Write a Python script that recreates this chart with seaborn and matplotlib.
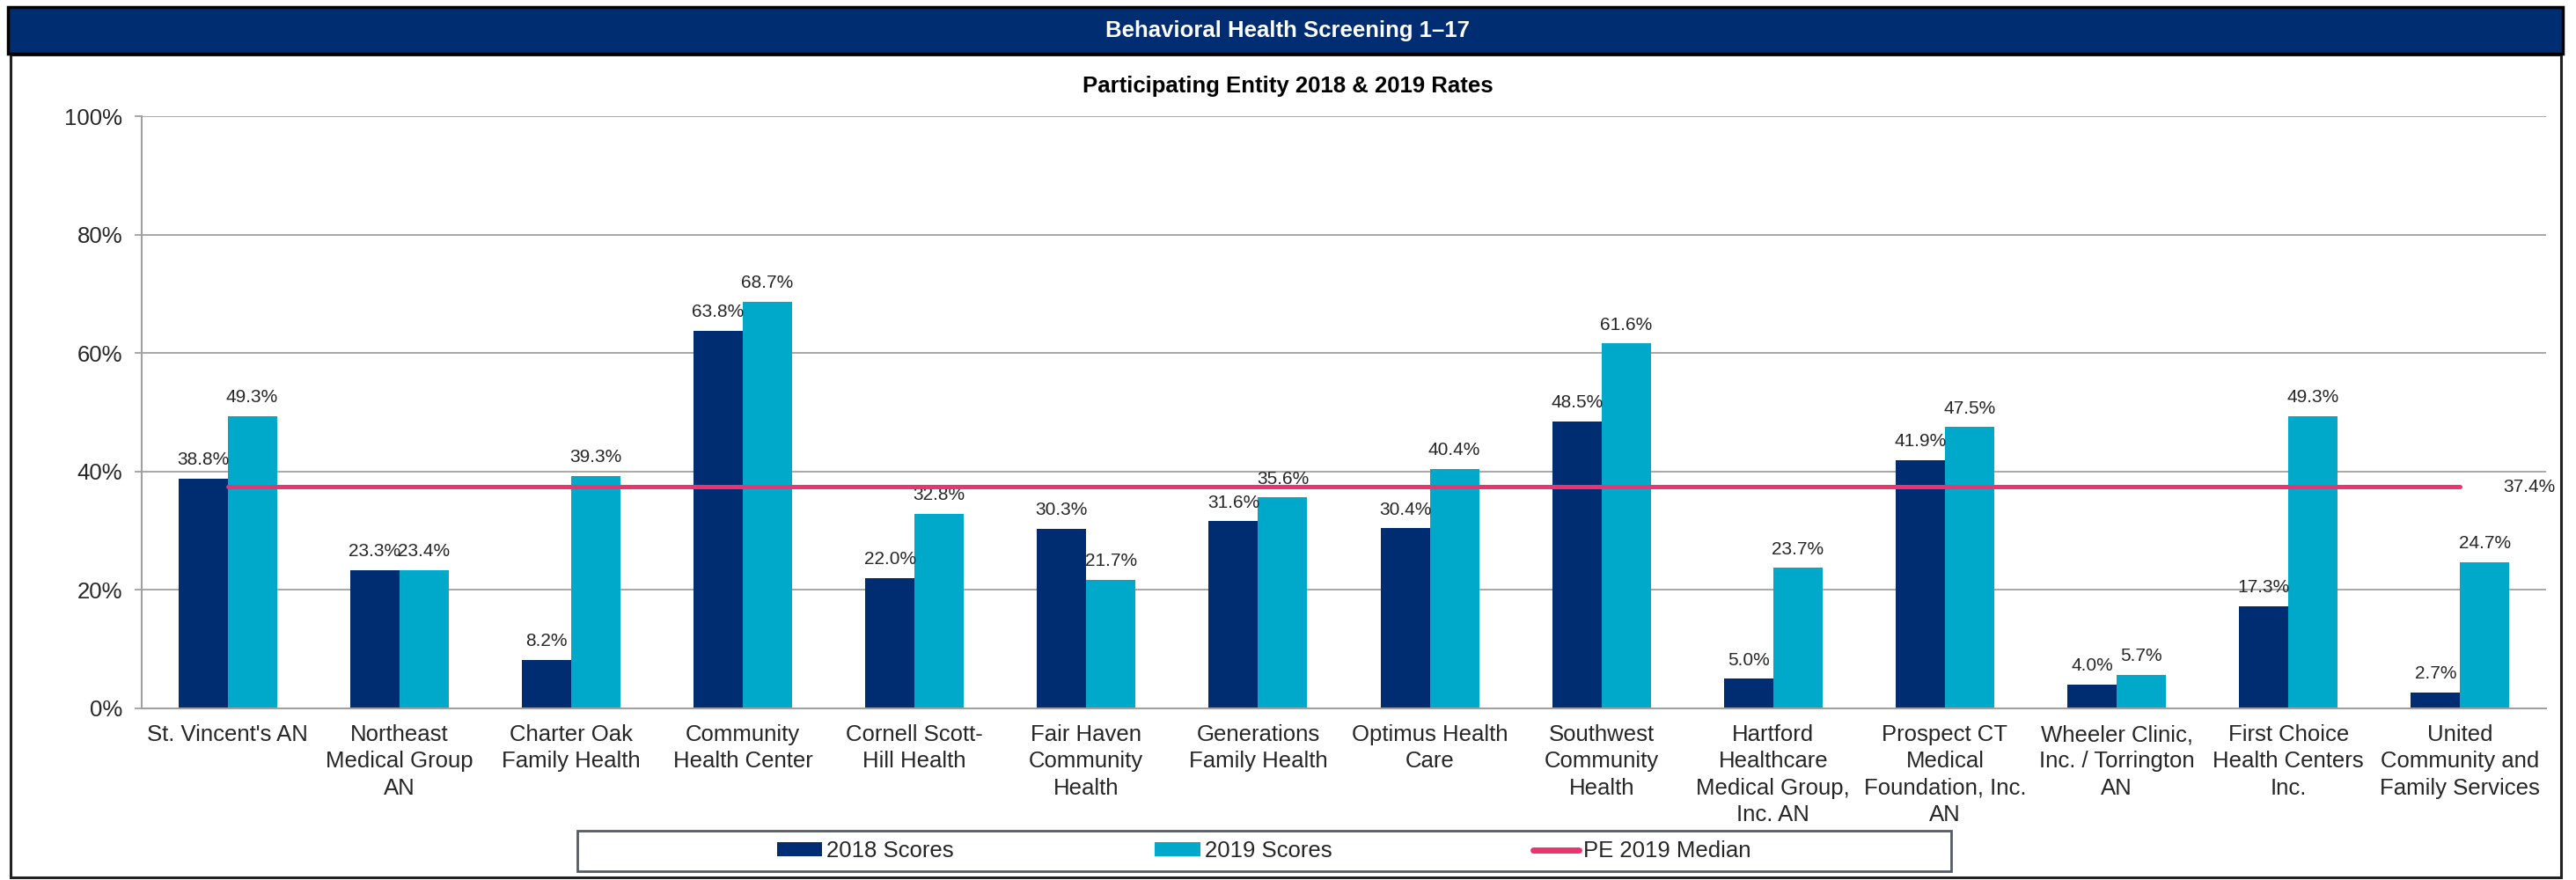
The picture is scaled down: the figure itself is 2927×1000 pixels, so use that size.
import numpy as np
import pandas as pd
import seaborn as sns
import matplotlib.pyplot as plt
from matplotlib.patches import Rectangle
from matplotlib.lines import Line2D

# chart values
entities = [
    "St. Vincent's AN",
    "Northeast\nMedical Group\nAN",
    "Charter Oak\nFamily Health",
    "Community\nHealth Center",
    "Cornell Scott-\nHill Health",
    "Fair Haven\nCommunity\nHealth",
    "Generations\nFamily Health",
    "Optimus Health\nCare",
    "Southwest\nCommunity\nHealth",
    "Hartford\nHealthcare\nMedical Group,\nInc. AN",
    "Prospect CT\nMedical\nFoundation, Inc.\nAN",
    "Wheeler Clinic,\nInc. / Torrington\nAN",
    "First Choice\nHealth Centers\nInc.",
    "United\nCommunity and\nFamily Services",
]
scores_2018 = [38.8, 23.3, 8.2, 63.8, 22.0, 30.3, 31.6, 30.4, 48.5, 5.0, 41.9, 4.0, 17.3, 2.7]
scores_2019 = [49.3, 23.4, 39.3, 68.7, 32.8, 21.7, 35.6, 40.4, 61.6, 23.7, 47.5, 5.7, 49.3, 24.7]
median_2019 = 37.4
series = ["2018 Scores", "2019 Scores"]
y_ticks = [0, 20, 40, 60, 80, 100]

NAVY = "#002D72"
TEAL = "#00A9C9"
PINK = "#EC3370"
GRID = "#A0A0A0"

df = pd.DataFrame({
    "entity": entities * 2,
    "series": [series[0]] * len(entities) + [series[1]] * len(entities),
    "rate": scores_2018 + scores_2019,
})

sns.set_theme(style="white")
plt.rcParams["font.family"] = ["Liberation Sans", "DejaVu Sans"]

fig = plt.figure(figsize=(29.27, 10), dpi=100)
W, H = 2927, 1000

def fx(px):
    return px / W

def fy(py):
    return 1 - py / H

# outer frame and header band
fig.patches.append(Rectangle((fx(12), fy(997)), fx(2910) - fx(12), fy(62) - fy(997),
                             transform=fig.transFigure, fill=False, edgecolor="#222222", lw=2.2))
fig.patches.append(Rectangle((fx(9), fy(61)), fx(2912) - fx(9), fy(8) - fy(61),
                             transform=fig.transFigure, facecolor=NAVY, edgecolor="black", lw=2.5))
fig.text(0.5, fy(35), "Behavioral Health Screening 1\u201317", color="white",
         fontsize=18.5, fontweight="bold", ha="center", va="center")
fig.text(0.5, fy(98), "Participating Entity 2018 & 2019 Rates", color="black",
         fontsize=18.5, fontweight="bold", ha="center", va="center")

ax = fig.add_axes([fx(161), fy(805), fx(2893) - fx(161), fy(132) - fy(805)])

sns.barplot(data=df, x="entity", y="rate", hue="series", order=entities,
            hue_order=series, palette=[NAVY, TEAL], saturation=1,
            width=0.574, errorbar=None, linewidth=0, ax=ax)

bar_handles = ax.get_legend().legend_handles
ax.get_legend().remove()

for cont in ax.containers:
    ax.bar_label(cont, fmt="%.1f%%", padding=8.5, fontsize=15)

pos = np.arange(len(entities))
med_line, = ax.plot(pos[[0, -1]], [median_2019, median_2019], color=PINK,
                    lw=3.6, solid_capstyle="round", zorder=5)
ax.text(pos[-1] + 0.4, median_2019, f"{median_2019:.1f}%", fontsize=15,
        ha="center", va="center", clip_on=False)

ax.set_ylim(0, 100)
ax.set_xlim(-0.5, len(entities) - 0.5)
ax.set_yticks(y_ticks)
ax.set_yticklabels([f"{t}%" for t in y_ticks])
ax.yaxis.grid(True, color=GRID, lw=1.3)
ax.set_axisbelow(True)
ax.set_xlabel("")
ax.set_ylabel("")

ax.set_xticks(pos)
ax.set_xticklabels(entities, fontsize=18.5, linespacing=1.33)
ax.set_xticks(np.arange(len(entities) + 1) - 0.5, minor=True)
ax.tick_params(axis="x", which="major", length=0, pad=13)
ax.tick_params(axis="x", which="minor", length=5.5, width=1.3, color=GRID, direction="out")
ax.tick_params(axis="y", which="major", length=5.8, width=1.3, color=GRID,
               direction="out", pad=10, labelsize=18.5)
ax.tick_params(left=True, bottom=True)

for side in ["top", "right"]:
    ax.spines[side].set_visible(False)
for side in ["left", "bottom"]:
    ax.spines[side].set_color(GRID)
    ax.spines[side].set_linewidth(1.5)

# legend box
fig.patches.append(Rectangle((fx(656), fy(990)), fx(2217) - fx(656), fy(944) - fy(990),
                             transform=fig.transFigure, fill=False, edgecolor="#555b63", lw=2))
med_handle = Line2D([0], [0], color=PINK, lw=5, solid_capstyle="round")
fig.legend(handles=list(bar_handles) + [med_handle],
           labels=series + ["PE 2019 Median"],
           loc="center", bbox_to_anchor=(fx(1436), fy(967)), ncol=3,
           frameon=False, fontsize=18.5, handlelength=2.0, handleheight=0.55,
           handletextpad=0.2, columnspacing=8.9)

fig.savefig("out.png", dpi=100)
